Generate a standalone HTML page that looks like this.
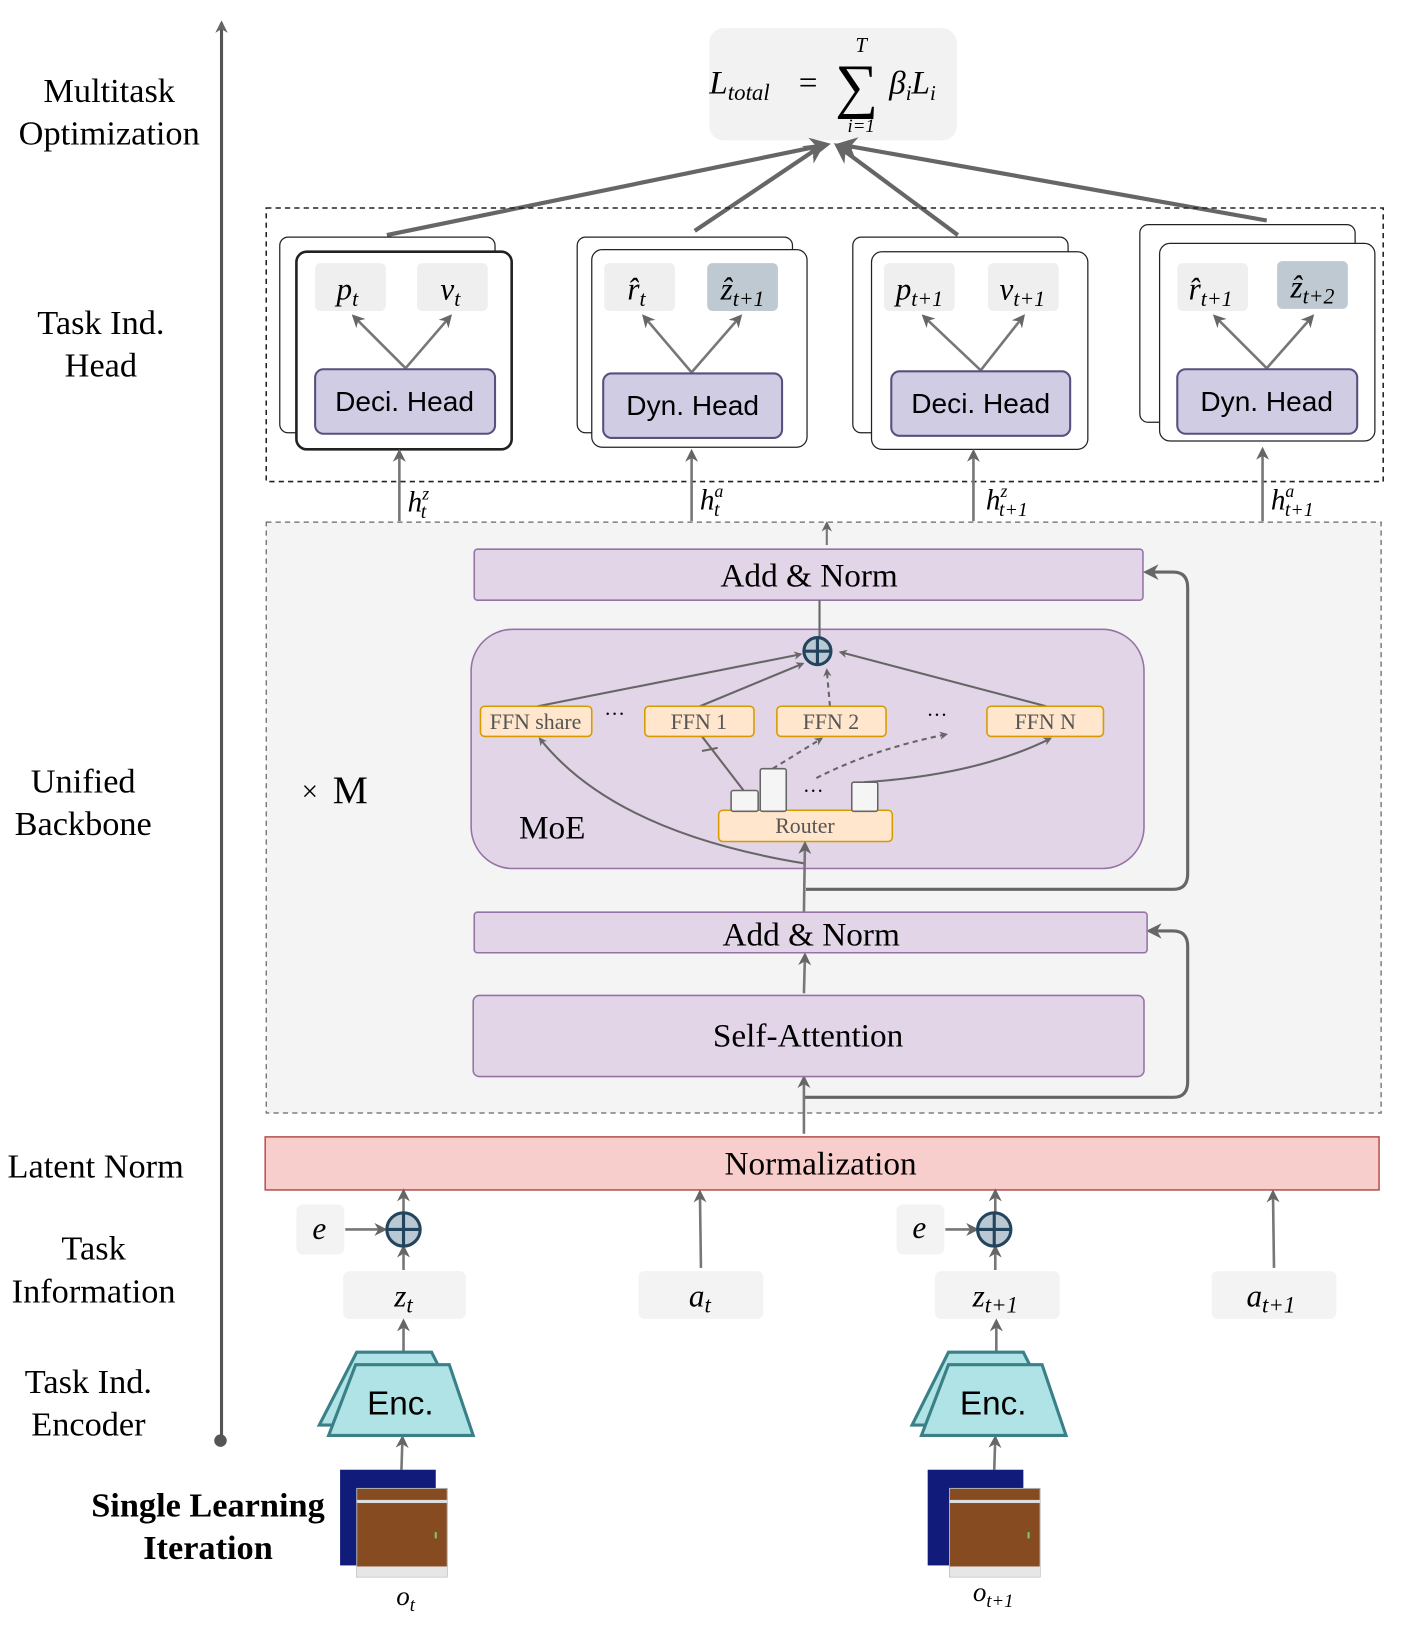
<!DOCTYPE html>
<html><head><meta charset="utf-8"><style>
html,body{margin:0;padding:0;background:#fff;}
svg{display:block;}
text{font-family:"Liberation Serif",serif;}
text.m,.m text,.m tspan{font-family:"Liberation Serif",serif;font-style:italic;}
text.s,.s text{font-family:"Liberation Sans",sans-serif;}
</style></head><body>
<svg width="1404" height="1632" viewBox="0 0 1350 1569" preserveAspectRatio="none" xmlns="http://www.w3.org/2000/svg">
<defs>
<marker id="a" viewBox="0 0 10 10" refX="8" refY="5" markerWidth="5" markerHeight="5" orient="auto"><path d="M0,0 L10,5 L0,10 L3,5 z" fill="#666"/></marker>
<marker id="b" viewBox="0 0 10 10" refX="8" refY="5" markerWidth="4" markerHeight="4" orient="auto"><path d="M0,0 L10,5 L0,10 L3,5 z" fill="#666"/></marker>
</defs>

<line x1="213" y1="1385" x2="213" y2="22" stroke="#555" stroke-width="3" marker-end="url(#b)"/>
<circle cx="212" cy="1385" r="6" fill="#555"/>

<g font-size="33" text-anchor="middle" fill="#000">
<text x="105" y="98">Multitask</text><text x="105" y="139">Optimization</text>
<text x="97" y="321">Task Ind.</text><text x="97" y="362">Head</text>
<text x="80" y="762">Unified</text><text x="80" y="803">Backbone</text>
<text x="92" y="1132">Latent Norm</text>
<text x="90" y="1211">Task</text><text x="90" y="1252">Information</text>
<text x="85" y="1339">Task Ind.</text><text x="85" y="1380">Encoder</text>
<text x="200" y="1458" font-weight="bold">Single Learning</text><text x="200" y="1499" font-weight="bold">Iteration</text>
</g>

<rect x="682" y="27" width="238" height="108" rx="14" fill="#f2f2f2"/>
<text x="682" y="90" font-size="32" class="m">L<tspan font-size="22" dy="6">total</tspan></text>
<text x="768" y="90" font-size="32">=</text>
<text x="803" y="102" font-size="58">∑</text>
<text x="828" y="50" font-size="20" class="m" text-anchor="middle">T</text>
<text x="828" y="127" font-size="18" class="m" text-anchor="middle">i=1</text>
<text x="855" y="90" font-size="32" class="m">β<tspan font-size="20" dy="6">i</tspan><tspan dy="-6">L</tspan><tspan font-size="20" dy="6">i</tspan></text>

<g stroke="#666" stroke-width="4" marker-end="url(#a)">
<line x1="372" y1="226" x2="795" y2="139"/>
<line x1="668" y1="222" x2="790" y2="140"/>
<line x1="921" y1="226" x2="805" y2="140"/>
<line x1="1218" y1="212" x2="808" y2="139"/>
</g>

<rect x="256" y="200" width="1074" height="263" fill="none" stroke="#222" stroke-width="1.5" stroke-dasharray="5,4"/>
<g stroke-width="1.2" stroke="#222">
<rect x="269" y="228" width="207" height="188" rx="8" fill="#fff"/>
<rect x="285" y="242" width="207" height="190" rx="10" fill="#fff" stroke-width="2.5"/>
<rect x="555" y="228" width="207" height="188" rx="8" fill="#fff"/>
<rect x="569" y="240" width="207" height="190" rx="10" fill="#fff"/>
<rect x="820" y="228" width="207" height="188" rx="8" fill="#fff"/>
<rect x="838" y="242" width="208" height="190" rx="10" fill="#fff"/>
<rect x="1096" y="216" width="207" height="190" rx="8" fill="#fff"/>
<rect x="1115" y="234" width="207" height="190" rx="10" fill="#fff"/>
</g>
<g>
<rect x="303" y="253" width="68" height="46" rx="5" fill="#efefef"/>
<rect x="401" y="253" width="68" height="46" rx="5" fill="#efefef"/>
<rect x="581" y="253" width="68" height="46" rx="5" fill="#efefef"/>
<rect x="680" y="253" width="68" height="46" rx="5" fill="#bfc9d2"/>
<rect x="850" y="253" width="68" height="46" rx="5" fill="#efefef"/>
<rect x="950" y="253" width="68" height="46" rx="5" fill="#efefef"/>
<rect x="1132" y="253" width="68" height="46" rx="5" fill="#efefef"/>
<rect x="1228" y="251" width="68" height="46" rx="5" fill="#bfc9d2"/>
</g>
<g font-size="30" class="m" text-anchor="middle">
<text x="334" y="288">p<tspan font-size="21" dy="6">t</tspan></text>
<text x="433" y="288">v<tspan font-size="21" dy="6">t</tspan></text>
<text x="612" y="288">r̂<tspan font-size="21" dy="6">t</tspan></text>
<text x="714" y="288">ẑ<tspan font-size="21" dy="6">t+1</tspan></text>
<text x="884" y="288">p<tspan font-size="21" dy="6">t+1</tspan></text>
<text x="983" y="288">v<tspan font-size="21" dy="6">t+1</tspan></text>
<text x="1164" y="288">r̂<tspan font-size="21" dy="6">t+1</tspan></text>
<text x="1262" y="286">ẑ<tspan font-size="21" dy="6">t+2</tspan></text>
</g>
<g stroke="#777" stroke-width="2.5" marker-end="url(#a)">
<line x1="390" y1="354" x2="340" y2="304"/><line x1="390" y1="354" x2="433" y2="304"/>
<line x1="665" y1="358" x2="619" y2="304"/><line x1="665" y1="358" x2="712" y2="304"/>
<line x1="943" y1="356" x2="888" y2="304"/><line x1="943" y1="356" x2="984" y2="304"/>
<line x1="1218" y1="354" x2="1168" y2="304"/><line x1="1218" y1="354" x2="1262" y2="304"/>
</g>
<g fill="#d0cce4" stroke="#56517e" stroke-width="2">
<rect x="303" y="355" width="173" height="62" rx="8"/>
<rect x="580" y="359" width="172" height="62" rx="8"/>
<rect x="857" y="357" width="172" height="62" rx="8"/>
<rect x="1132" y="355" width="173" height="62" rx="8"/>
</g>
<g font-size="27" text-anchor="middle">
<text class="s" x="389" y="395">Deci. Head</text>
<text class="s" x="666" y="399">Dyn. Head</text>
<text class="s" x="943" y="397">Deci. Head</text>
<text class="s" x="1218" y="395">Dyn. Head</text>
</g>

<g stroke="#777" stroke-width="2.5" marker-end="url(#a)">
<line x1="384" y1="501" x2="384" y2="434"/>
<line x1="665" y1="501" x2="665" y2="434"/>
<line x1="936" y1="501" x2="936" y2="434"/>
<line x1="1214" y1="501" x2="1214" y2="432"/>
</g>
<g font-size="28" class="m">
<text x="392" y="492">h<tspan font-size="17" dy="-12">z</tspan><tspan font-size="19" dx="-8" dy="18">t</tspan></text>
<text x="673" y="490">h<tspan font-size="17" dy="-12">a</tspan><tspan font-size="19" dx="-9" dy="18">t</tspan></text>
<text x="948" y="490">h<tspan font-size="17" dy="-12">z</tspan><tspan font-size="19" dx="-8" dy="18">t+1</tspan></text>
<text x="1222" y="490">h<tspan font-size="17" dy="-12">a</tspan><tspan font-size="19" dx="-9" dy="18">t+1</tspan></text>
</g>

<rect x="256" y="502" width="1072" height="568" fill="#f4f4f4" stroke="#666" stroke-width="1.2" stroke-dasharray="5,4"/>
<line x1="795" y1="524" x2="795" y2="503" stroke="#777" stroke-width="2" marker-end="url(#a)"/>
<rect x="456" y="528" width="643" height="49" rx="3" fill="#e1d5e7" stroke="#9673a6" stroke-width="1.5"/>
<text x="778" y="564" font-size="32" text-anchor="middle">Add &amp; Norm</text>
<rect x="453" y="605" width="647" height="230" rx="40" fill="#e1d5e7" stroke="#9673a6" stroke-width="1.5"/>
<line x1="788" y1="577" x2="788" y2="613" stroke="#666" stroke-width="2"/>
<text x="290" y="770" font-size="28">×</text><text x="320" y="772" font-size="38">M</text>
<text x="499" y="806" font-size="32">MoE</text>

<g stroke="#666" stroke-width="2" fill="none" marker-end="url(#b)">
<line x1="517" y1="679" x2="770" y2="629"/>
<line x1="673" y1="679" x2="772" y2="638"/>
<line x1="1006" y1="679" x2="808" y2="627"/>
<line x1="798" y1="679" x2="795" y2="644" stroke-dasharray="5,4"/>
<line x1="743" y1="739" x2="790" y2="710" stroke-dasharray="5,4"/>
<path d="M785,748 Q840,720 910,706" stroke-dasharray="5,4"/>
<path d="M831,752 Q940,745 1010,710"/>
<path d="M773,830 Q590,800 519,710"/>
</g>
<line x1="715" y1="760" x2="675" y2="708" stroke="#666" stroke-width="2"/>
<line x1="675" y1="722" x2="690" y2="719" stroke="#666" stroke-width="2"/>
<circle cx="786" cy="626" r="13" fill="#bac8d3" stroke="#23445d" stroke-width="3"/>
<line x1="773" y1="626" x2="799" y2="626" stroke="#23445d" stroke-width="3"/>
<line x1="786" y1="613" x2="786" y2="639" stroke="#23445d" stroke-width="3"/>

<g fill="#ffe6cc" stroke="#d79b00" stroke-width="1.5">
<rect x="462" y="679" width="107" height="29" rx="4"/>
<rect x="620" y="679" width="105" height="29" rx="4"/>
<rect x="747" y="679" width="105" height="29" rx="4"/>
<rect x="949" y="679" width="112" height="29" rx="4"/>
<rect x="691" y="779" width="167" height="30" rx="4"/>
</g>
<g font-size="21" fill="#555" text-anchor="middle">
<text x="515" y="701">FFN share</text>
<text x="672" y="701">FFN 1</text>
<text x="799" y="701">FFN 2</text>
<text x="1005" y="701">FFN N</text>
<text x="774" y="801">Router</text>
</g>
<g font-size="20" text-anchor="middle"><text x="591" y="693">···</text><text x="901" y="694">···</text><text x="782" y="767">···</text></g>
<g fill="#f5f5f5" stroke="#666" stroke-width="1.5">
<rect x="703" y="760" width="26" height="20" rx="2"/>
<rect x="731" y="739" width="25" height="41" rx="2"/>
<rect x="819" y="752" width="25" height="28" rx="2"/>
</g>

<g stroke="#666" stroke-width="3" fill="none" marker-end="url(#a)">
<path d="M775,855 L1128,855 Q1142,855 1142,840 L1142,565 Q1142,550 1128,550 L1102,550"/>
<path d="M773,1055 L1128,1055 Q1142,1055 1142,1040 L1142,910 Q1142,895 1128,895 L1105,895"/>
</g>
<g stroke="#777" stroke-width="2.5" marker-end="url(#a)">
<line x1="773" y1="1090" x2="773" y2="1036"/>
<line x1="773" y1="955" x2="774" y2="918"/>
<line x1="773" y1="877" x2="774" y2="811"/>
</g>
<rect x="456" y="877" width="647" height="39" rx="3" fill="#e1d5e7" stroke="#9673a6" stroke-width="1.5"/>
<text x="780" y="909" font-size="32" text-anchor="middle">Add &amp; Norm</text>
<rect x="455" y="957" width="645" height="78" rx="6" fill="#e1d5e7" stroke="#9673a6" stroke-width="1.5"/>
<text x="777" y="1006" font-size="32" text-anchor="middle">Self-Attention</text>

<rect x="255" y="1093" width="1071" height="51" fill="#f8cecc" stroke="#b85450" stroke-width="1.5"/>
<text x="789" y="1129" font-size="32" text-anchor="middle">Normalization</text>

<g fill="#f3f3f3">
<rect x="285" y="1158" width="46" height="48" rx="6"/>
<rect x="862" y="1158" width="46" height="48" rx="6"/>
<rect x="330" y="1222" width="118" height="46" rx="6"/>
<rect x="614" y="1222" width="120" height="46" rx="6"/>
<rect x="899" y="1222" width="120" height="46" rx="6"/>
<rect x="1165" y="1222" width="120" height="46" rx="6"/>
</g>
<g stroke="#777" stroke-width="2.5" marker-end="url(#a)">
<line x1="332" y1="1182" x2="370" y2="1182"/>
<line x1="909" y1="1182" x2="939" y2="1182"/>
<line x1="388" y1="1166" x2="388" y2="1145"/>
<line x1="388" y1="1221" x2="388" y2="1199"/>
<line x1="957" y1="1166" x2="957" y2="1145"/>
<line x1="957" y1="1221" x2="957" y2="1199"/>
<line x1="674" y1="1219" x2="673" y2="1146"/>
<line x1="1225" y1="1219" x2="1224" y2="1146"/>
<line x1="388" y1="1300" x2="388" y2="1270"/>
<line x1="958" y1="1300" x2="958" y2="1270"/>
<line x1="386" y1="1413" x2="387" y2="1382"/>
<line x1="956" y1="1413" x2="957" y2="1382"/>
</g>
<g fill="#bac8d3" stroke="#23445d" stroke-width="3">
<circle cx="388" cy="1182" r="16"/><circle cx="956" cy="1182" r="16"/>
</g>
<g stroke="#23445d" stroke-width="3">
<line x1="372" y1="1182" x2="404" y2="1182"/><line x1="388" y1="1166" x2="388" y2="1198"/>
<line x1="940" y1="1182" x2="972" y2="1182"/><line x1="956" y1="1166" x2="956" y2="1198"/>
</g>
<g font-size="30" class="m" text-anchor="middle">
<text x="307" y="1191">e</text><text x="884" y="1190">e</text>
<text x="388" y="1256">z<tspan font-size="22" dy="6">t</tspan></text>
<text x="673" y="1256">a<tspan font-size="22" dy="6">t</tspan></text>
<text x="957" y="1256">z<tspan font-size="22" dy="6">t+1</tspan></text>
<text x="1222" y="1256">a<tspan font-size="22" dy="6">t+1</tspan></text>
<text x="390" y="1543" font-size="26">o<tspan font-size="18" dy="6">t</tspan></text>
<text x="955" y="1539" font-size="26">o<tspan font-size="18" dy="6">t+1</tspan></text>
</g>
<g fill="#b0e3e6" stroke="#3a8088" stroke-width="3">
<polygon points="343,1300 415,1300 436,1342 436,1370 307,1370"/>
<polygon points="342,1312 432,1312 455,1380 316,1380"/>
<polygon points="912,1300 984,1300 1005,1342 1005,1370 877,1370"/>
<polygon points="912,1312 1002,1312 1025,1380 886,1380"/>
</g>
<text class="s" x="385" y="1360" font-size="32" text-anchor="middle">Enc.</text>
<text class="s" x="955" y="1360" font-size="32" text-anchor="middle">Enc.</text>

<g>
<rect x="327" y="1413" width="92" height="92" fill="#111b7a"/>
<rect x="343" y="1431" width="87" height="85" fill="#874b22" stroke="#aaa"/>
<rect x="343" y="1442" width="87" height="3" fill="#ddd"/>
<rect x="343" y="1506" width="87" height="10" fill="#e6e6e6"/>
<rect x="892" y="1413" width="92" height="92" fill="#111b7a"/>
<rect x="913" y="1431" width="87" height="85" fill="#874b22" stroke="#aaa"/>
<rect x="913" y="1442" width="87" height="3" fill="#ddd"/>
<rect x="913" y="1506" width="87" height="10" fill="#e6e6e6"/>
<rect x="418" y="1473" width="2" height="6" fill="#7c6"/>
<rect x="988" y="1473" width="2" height="6" fill="#7c6"/>
</g>
</svg>
</body></html>
